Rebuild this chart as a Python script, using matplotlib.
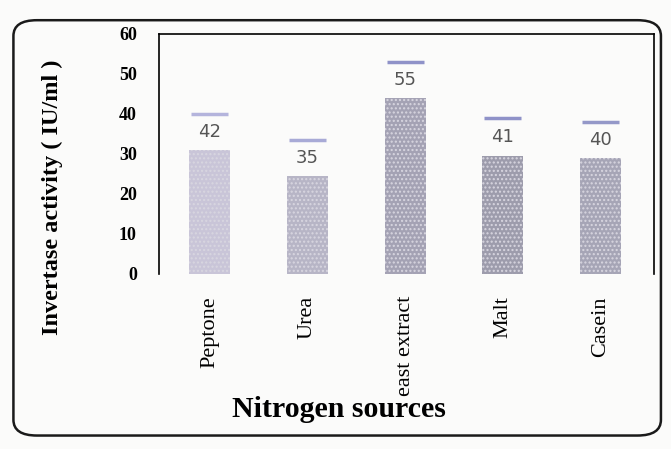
import numpy as np
import matplotlib.pyplot as plt
from matplotlib.patches import FancyBboxPatch

# Dane
sources = ["Peptone", "Urea", "east extract", "Malt", "Casein"]
bar_heights = [31, 24.5, 44, 29.5, 29]
cap_levels = [40, 33.5, 53, 39, 38]
value_labels = ["42", "35", "55", "41", "40"]
bar_colors = ["#c9c5d8", "#b7b5c6", "#a4a2b4", "#9d9cac", "#a6a5b6"]
cap_colors = ["#b4b4dc", "#a8aad6", "#8f92c8", "#8f92c8", "#9498c8"]

fig = plt.figure(figsize=(6.71, 4.49), dpi=100)
fig.patch.set_facecolor("#fbfbfa")

# ramka z zaokraglonymi rogami
box = FancyBboxPatch((0.02, 0.03), 0.965, 0.925, boxstyle="round,pad=0,rounding_size=0.035",
                     transform=fig.transFigure, fill=False, lw=1.8, ec="#1a1a1a")
fig.patches.append(box)

ax = fig.add_axes([0.237, 0.39, 0.738, 0.535])
ax.set_facecolor("none")

x = np.arange(len(sources))
w = 0.42
ax.bar(x, bar_heights, width=w, color=bar_colors, hatch="....", edgecolor="#d8d6e0", lw=0)
ax.hlines(cap_levels, x - w / 2 + 0.02, x + w / 2 - 0.02, colors=cap_colors, lw=2.5)
for xi, h, c, t in zip(x, bar_heights, cap_levels, value_labels):
    ax.text(xi, (h + c) / 2, t, ha="center", va="center", fontsize=13,
            color="#555555", family="DejaVu Sans")

ax.set_xlim(-0.52, 4.55)
ax.set_ylim(0, 60)
ax.set_yticks(range(0, 61, 10))
ax.set_xticks(x)
ax.set_xticklabels(sources, rotation=90, family="Liberation Serif", fontsize=16, va="top")
for lab in ax.get_yticklabels():
    lab.set_family("Liberation Serif")
    lab.set_fontweight("bold")
    lab.set_fontsize(13)
ax.tick_params(length=0, axis="y", pad=16)
ax.tick_params(length=0, axis="x", pad=16)
ax.spines["bottom"].set_visible(False)
for s in ["left", "top", "right"]:
    ax.spines[s].set_linewidth(1.2)

fig.text(52 / 671, 1 - 197 / 449, "Invertase activity ( IU/ml )", family="Liberation Serif",
         fontweight="bold", fontsize=17.5, rotation=90, ha="center", va="center")
fig.text(0.505, 0.087, "Nitrogen sources", family="Liberation Serif",
         fontsize=21.5, ha="center", va="center", fontweight="bold")

fig.savefig("out.png", dpi=100, facecolor=fig.get_facecolor())
